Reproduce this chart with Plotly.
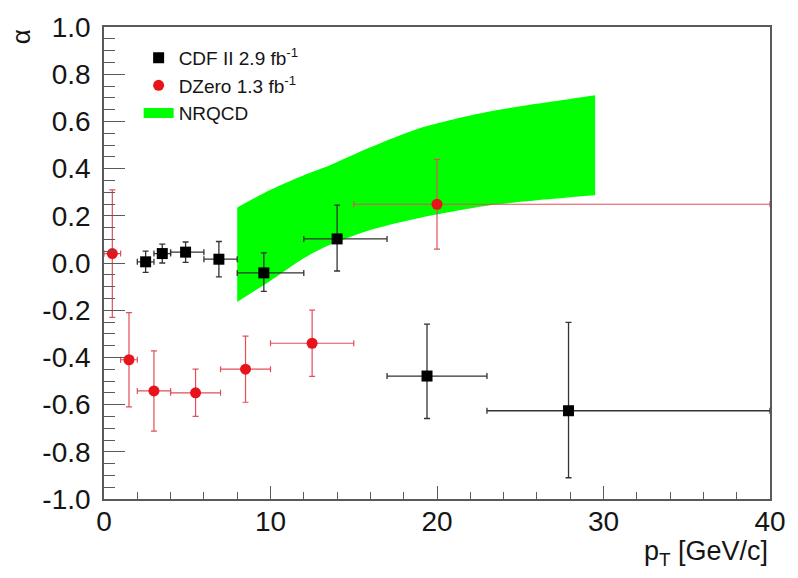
import plotly.graph_objects as go

# CDF II 2.9 fb^-1 measurements
cdf_pt = [2.5, 3.5, 4.9, 6.9, 9.6, 14.0, 19.4, 27.9]
cdf_pt_lo = [2.0, 3.0, 4.0, 6.0, 8.0, 12.0, 17.0, 23.0]
cdf_pt_hi = [3.0, 4.0, 6.0, 8.0, 12.0, 17.0, 23.0, 40.0]
cdf_alpha = [0.005, 0.04, 0.046, 0.016, -0.042, 0.102, -0.479, -0.626]
cdf_err_up = [0.045, 0.04, 0.043, 0.075, 0.085, 0.143, 0.22, 0.374]
cdf_err_dn = [0.045, 0.04, 0.043, 0.075, 0.078, 0.136, 0.18, 0.284]

# DZero 1.3 fb^-1 measurements
d0_pt = [0.5, 1.5, 3.0, 5.5, 8.5, 12.5, 20.0]
d0_pt_lo = [0.0, 1.0, 2.0, 4.0, 7.0, 10.0, 15.0]
d0_pt_hi = [1.0, 2.0, 4.0, 7.0, 10.0, 15.0, 40.0]
d0_alpha = [0.04, -0.41, -0.542, -0.55, -0.45, -0.34, 0.249]
d0_err = [0.27, 0.20, 0.17, 0.10, 0.14, 0.14, 0.19]

# NRQCD prediction band
nrqcd_pt = [8.0, 10.0, 12.0, 13.5, 16.0, 19.0, 23.0, 27.0, 29.5]
nrqcd_upper = [0.235, 0.31, 0.372, 0.412, 0.49, 0.572, 0.64, 0.685, 0.711]
nrqcd_lower = [-0.165, -0.075, 0.02, 0.075, 0.14, 0.192, 0.243, 0.272, 0.287]

# axis ticks
x_ticks = [0, 10, 20, 30, 40]
x_tick_text = ["0", "10", "20", "30", "40"]
y_ticks = [-1.0, -0.8, -0.6, -0.4, -0.2, 0.0, 0.2, 0.4, 0.6, 0.8, 1.0]
y_tick_text = ["-1.0", "-0.8", "-0.6", "-0.4", "-0.2", "0.0", "0.2", "0.4", "0.6", "0.8", "1.0"]

FONT = "Liberation Sans, Arial, Helvetica, sans-serif"
TEXT = "#151515"
FRAME = "#5a5a5a"
GREEN = "#00ff00"

fig = go.Figure()

# theory band: lower edge, then upper edge filled down to it
fig.add_trace(go.Scatter(
    x=nrqcd_pt, y=nrqcd_lower, mode="lines",
    line=dict(width=0, color=GREEN, shape="spline", smoothing=0.8),
    showlegend=False, hoverinfo="skip",
))
fig.add_trace(go.Scatter(
    x=nrqcd_pt, y=nrqcd_upper, mode="lines",
    fill="tonexty", fillcolor=GREEN,
    line=dict(width=0, color=GREEN, shape="spline", smoothing=0.8),
    name="NRQCD", showlegend=False, hoverinfo="skip",
))

fig.add_trace(go.Scatter(
    x=cdf_pt, y=cdf_alpha, mode="markers",
    marker=dict(symbol="square", size=11, color="black"),
    error_x=dict(type="data", symmetric=False,
                 array=[h - c for h, c in zip(cdf_pt_hi, cdf_pt)],
                 arrayminus=[c - l for c, l in zip(cdf_pt, cdf_pt_lo)],
                 color="#333333", thickness=1.3, width=3),
    error_y=dict(type="data", symmetric=False,
                 array=cdf_err_up, arrayminus=cdf_err_dn,
                 color="#333333", thickness=1.3, width=3),
    name="CDF II 2.9 fb<sup>-1</sup>", legendrank=1,
))

fig.add_trace(go.Scatter(
    x=d0_pt, y=d0_alpha, mode="markers",
    marker=dict(symbol="circle", size=11, color="#e8141c"),
    error_x=dict(type="data", symmetric=False,
                 array=[h - c for h, c in zip(d0_pt_hi, d0_pt)],
                 arrayminus=[c - l for c, l in zip(d0_pt, d0_pt_lo)],
                 color="#e0505a", thickness=1.2, width=3),
    error_y=dict(type="data", array=d0_err,
                 color="#e0505a", thickness=1.2, width=3),
    name="DZero 1.3 fb<sup>-1</sup>", legendrank=2,
))

# legend entry for the band: a wide green swatch
fig.add_trace(go.Scatter(
    x=[None], y=[None], mode="lines",
    line=dict(width=14, color=GREEN),
    name="NRQCD", legendrank=3, hoverinfo="skip",
))

fig.update_layout(
    width=798, height=578,
    margin=dict(l=104, r=22, t=23, b=79),
    paper_bgcolor="white", plot_bgcolor="white",
    font=dict(family=FONT, color=TEXT),
    showlegend=True,
    legend=dict(x=0.052, y=0.975, xanchor="left", yanchor="top",
                traceorder="normal",
                bgcolor="rgba(0,0,0,0)", font=dict(size=19, color=TEXT),
                tracegroupgap=0, itemwidth=30),
)

fig.update_xaxes(
    range=[0, 40], tickvals=x_ticks, ticktext=x_tick_text,
    ticks="inside", ticklen=13, tickwidth=1.3, tickcolor=FRAME,
    minor=dict(ticks="inside", ticklen=7, dtick=2, tickcolor=FRAME, tickwidth=1.3),
    showline=True, linecolor=FRAME, linewidth=1.6, mirror=True,
    showgrid=False, zeroline=False,
    tickfont=dict(size=28, color=TEXT, family=FONT), ticklabelstandoff=-3,
)
fig.update_yaxes(
    range=[-1.0, 1.0], tickvals=y_ticks, ticktext=y_tick_text,
    ticks="inside", ticklen=21, tickwidth=1.3, tickcolor=FRAME,
    minor=dict(ticks="inside", ticklen=11, dtick=0.05, tickcolor=FRAME, tickwidth=1.3),
    showline=True, linecolor=FRAME, linewidth=1.6, mirror=True,
    showgrid=False, zeroline=False,
    tickfont=dict(size=28, color=TEXT, family=FONT), ticklabelstandoff=6,
)

# axis titles placed at the ends of the axes
fig.add_annotation(
    text="p<sub>T</sub> [GeV/c]", xref="paper", yref="paper",
    x=1.0, y=-0.075, xanchor="right", yanchor="top", showarrow=False,
    font=dict(size=27, color=TEXT, family=FONT),
)
fig.add_annotation(
    text="α", xref="paper", yref="paper",
    x=-0.125, y=1.0, xanchor="center", yanchor="top", showarrow=False,
    textangle=-90, font=dict(size=26, color=TEXT, family=FONT),
)

fig.write_html("out.html")
